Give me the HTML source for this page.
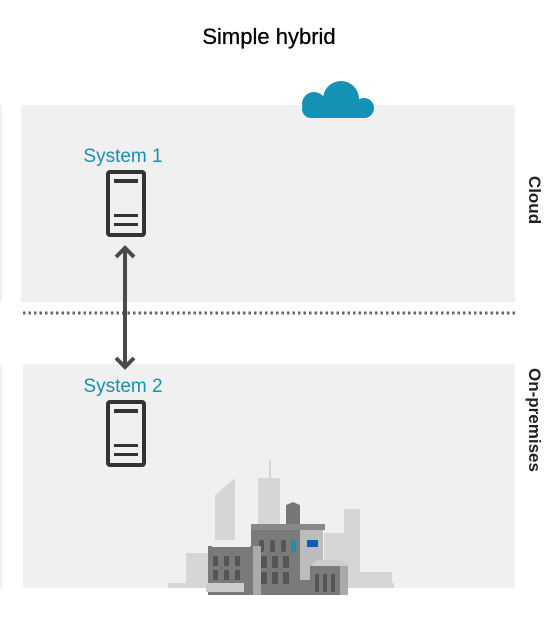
<!DOCTYPE html>
<html><head><meta charset="utf-8"><style>
html,body{margin:0;padding:0;background:#fff;}
svg{display:block;font-family:"Segoe UI","Liberation Sans",sans-serif;}
</style></head><body>
<svg width="557" height="631" viewBox="0 0 557 631" xmlns="http://www.w3.org/2000/svg">
<text x="269" y="44" text-anchor="middle" font-size="22" fill="#000" stroke="#000" stroke-width="0.3">Simple hybrid</text>
<rect x="0" y="105" width="2" height="197" fill="#f0f0f0"/>
<rect x="0" y="365" width="2" height="223" fill="#f0f0f0"/>
<rect x="21" y="105" width="494" height="197" fill="#f0f0f0"/>
<rect x="23" y="364" width="492" height="224" fill="#f0f0f0"/>
<line x1="23" y1="313" x2="515" y2="313" stroke="#666" stroke-width="3" stroke-dasharray="2.5,3"/>
<!-- cloud -->
<g fill="#1591b5">
<circle cx="341" cy="99" r="18"/>
<circle cx="314" cy="104" r="12"/>
<circle cx="364" cy="108" r="10"/>
<rect x="302" y="100" width="71" height="18" rx="9"/>
</g>
<text x="529" y="200" font-size="17" font-weight="bold" fill="#222" text-anchor="middle" transform="rotate(90 529 200)">Cloud</text>
<text x="529" y="420" font-size="17" font-weight="bold" fill="#222" text-anchor="middle" transform="rotate(90 529 420)">On-premises</text>
<text x="123" y="162" font-size="19" fill="#1591b5" text-anchor="middle">System 1</text>
<text x="123" y="392" font-size="19" fill="#1591b5" text-anchor="middle">System 2</text>
<!-- servers -->
<g fill="none" stroke="#333" stroke-width="4">
<rect x="108" y="172" width="36" height="63" rx="2"/>
<rect x="108" y="402" width="36" height="63" rx="2"/>
</g>
<g fill="#333">
<rect x="114" y="179" width="24" height="4"/><rect x="114" y="214" width="24" height="3"/><rect x="114" y="223" width="24" height="3"/>
<rect x="114" y="409" width="24" height="4"/><rect x="114" y="444" width="24" height="3"/><rect x="114" y="453" width="24" height="3"/>
</g>
<!-- arrow -->
<g stroke="#4a4a4a" stroke-width="4" fill="none">
<line x1="125" y1="247" x2="125" y2="367"/>
<polyline points="116,257 125,248 134,257"/>
<polyline points="116,358 125,367 134,358"/>
</g>
<!-- city -->
<g>
<rect x="168" y="583" width="226" height="5" fill="#d6d6d6"/>
<rect x="186" y="553" width="30" height="32" fill="#d6d6d6"/>
<polygon points="215,495 235,478 235,585 215,585" fill="#d6d6d6"/>
<rect x="258" y="478" width="22" height="107" fill="#d6d6d6"/>
<rect x="269" y="460" width="2" height="20" fill="#d6d6d6"/>
<rect x="324" y="533" width="24" height="52" fill="#d6d6d6"/>
<rect x="344" y="509" width="16" height="76" fill="#d6d6d6"/>
<rect x="360" y="572" width="32" height="13" fill="#d6d6d6"/>
<polygon points="286,505 293,502 300,505 300,530 286,530" fill="#777"/>
<rect x="251" y="528" width="70" height="67" fill="#7a7a7a"/>
<rect x="251" y="524" width="74" height="6" fill="#888"/>
<rect x="300" y="530" width="23" height="50" fill="#bcbcbc"/>
<rect x="307" y="540" width="11" height="7" fill="#0b5fb0"/>
<g fill="#555">
<rect x="259" y="540" width="5" height="12" rx="2"/><rect x="270" y="540" width="5" height="12" rx="2"/><rect x="281" y="540" width="5" height="12" rx="2"/>
</g>
<rect x="291" y="540" width="5" height="12" rx="2" fill="#1591b5"/>
<rect x="208" y="546" width="45" height="49" fill="#7a7a7a"/>
<rect x="253" y="546" width="8" height="49" fill="#aaa"/>
<rect x="212" y="540" width="38" height="7" fill="#eee"/>
<rect x="206" y="583" width="38" height="9" fill="#ccc"/>
<rect x="310" y="565" width="32" height="30" fill="#7a7a7a"/>
<rect x="340" y="565" width="8" height="30" fill="#aaa"/>
<polygon points="310,566 316,560 342,560 348,566" fill="#ccc"/>
<g fill="#555">
<rect x="213" y="556" width="5" height="10"/><rect x="224" y="556" width="5" height="10"/><rect x="235" y="556" width="5" height="10"/>
<rect x="213" y="570" width="5" height="10"/><rect x="224" y="570" width="5" height="10"/><rect x="235" y="570" width="5" height="10"/>
<rect x="261" y="556" width="6" height="12"/><rect x="272" y="556" width="6" height="12"/><rect x="283" y="556" width="6" height="12"/>
<rect x="261" y="572" width="6" height="12"/><rect x="272" y="572" width="6" height="12"/><rect x="283" y="572" width="6" height="12"/>
<rect x="315" y="574" width="4" height="18"/><rect x="323" y="574" width="4" height="18"/><rect x="331" y="574" width="4" height="18"/>
</g>
</g>
</svg>
</body></html>
